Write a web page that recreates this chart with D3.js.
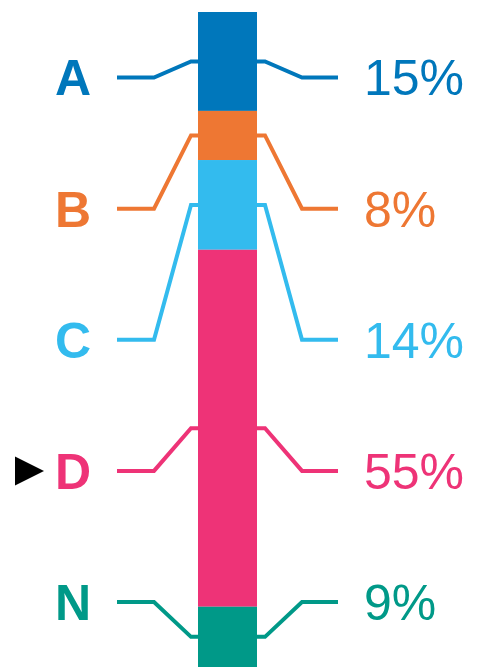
<!DOCTYPE html>
<html>
<head>
<meta charset="utf-8">
<script src="https://cdn.jsdelivr.net/npm/d3@7"></script>
<style>
  body { margin: 0; background: #fff; }
  text { font-family: "Liberation Sans", Arial, sans-serif; }
</style>
</head>
<body>
<svg></svg>
<script>
var categories = ["A", "B", "C", "D", "N"];
var shares = [15.1, 7.5, 13.7, 54.5, 9.2];
var colorList = ["#0077BB", "#EE7733", "#33BBEE", "#EE3377", "#009988"];
var highlighted = "D";

var drawChart = function(){
  var screen = { width: 486, height: 668 };

  var bar = { left: 198, right: 257, top: 12, bottom: 667 };
  var fontSize = 50;

  var svg = d3.select("svg")
              .attr("width", screen.width)
              .attr("height", screen.height);

  var ends = d3.cumsum(shares);
  var rows = categories.map(function(c, i){
    return { name: c, value: shares[i], y0: ends[i] - shares[i], y1: ends[i] };
  });

  var yScale = d3.scaleLinear()
                 .domain([0, d3.sum(shares)])
                 .range([bar.top, bar.bottom]);

  var labelScale = d3.scalePoint()
                     .domain(categories)
                     .range([77.5, 602]);

  var colors = d3.scaleOrdinal()
                 .domain(categories)
                 .range(colorList);

  // stacked bar
  svg.append("g").selectAll("rect")
     .data(rows)
     .enter()
     .append("rect")
     .attr("x", bar.left)
     .attr("width", bar.right - bar.left)
     .attr("y", function(d){ return yScale(d.y0); })
     .attr("height", function(d){ return yScale(d.y1) - yScale(d.y0); })
     .attr("fill", function(d){ return colors(d.name); });

  var line = d3.line();

  var links = svg.append("g").selectAll("g")
                 .data(rows)
                 .enter()
                 .append("g");

  links.append("path")
       .attr("fill", "none")
       .attr("stroke-width", 4)
       .attr("stroke", function(d){ return colors(d.name); })
       .attr("d", function(d){
         var ly = labelScale(d.name);
         var my = yScale((d.y0 + d.y1) / 2);
         return line([[117, ly], [154, ly], [191, my], [bar.left, my]]);
       });

  links.append("path")
       .attr("fill", "none")
       .attr("stroke-width", 4)
       .attr("stroke", function(d){ return colors(d.name); })
       .attr("d", function(d){
         var ly = labelScale(d.name);
         var my = yScale((d.y0 + d.y1) / 2);
         return line([[bar.right, my], [265, my], [302, ly], [338, ly]]);
       });

  // category letters
  links.append("text")
       .attr("x", 73)
       .attr("y", function(d){ return labelScale(d.name) + fontSize * 0.358; })
       .attr("text-anchor", "middle")
       .attr("font-size", fontSize)
       .attr("font-weight", "bold")
       .attr("fill", function(d){ return colors(d.name); })
       .text(function(d){ return d.name; });

  // percentages
  links.append("text")
       .attr("x", 364)
       .attr("y", function(d){ return labelScale(d.name) + fontSize * 0.358; })
       .attr("font-size", fontSize)
       .attr("fill", function(d){ return colors(d.name); })
       .text(function(d){ return Math.round(d.value) + "%"; });

  // marker for highlighted category
  var hy = labelScale(highlighted);
  svg.append("path")
     .attr("d", line([[15, hy - 14.5], [44, hy], [15, hy + 14.5]]) + "Z")
     .attr("fill", "#000");
};

drawChart();
</script>
</body>
</html>
